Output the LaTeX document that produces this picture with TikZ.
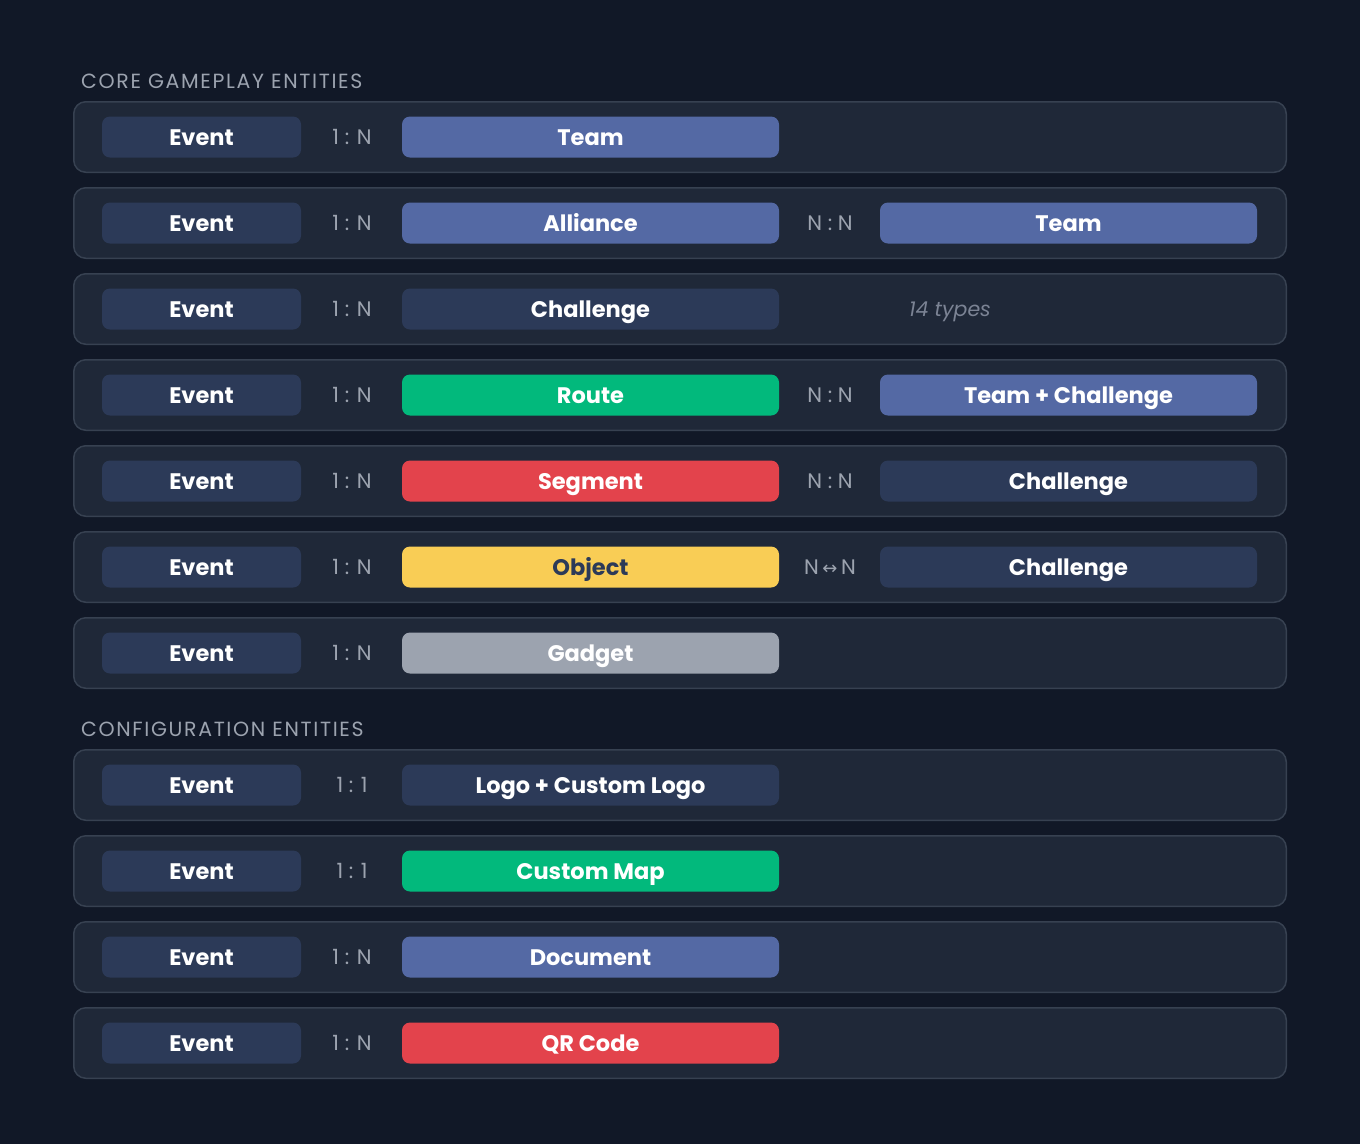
\documentclass[tikz,border=0pt]{standalone}
\usepackage{fontspec}
\setmainfont{Poppins}
\newfontfamily\arrowfont{DejaVu Sans}
\newfontfamily\headfont[LetterSpace=8]{Poppins}

\definecolor{pagebg}{HTML}{111827}
\definecolor{rowbg}{HTML}{1F2838}
\definecolor{rowline}{HTML}{374151}
\definecolor{slate}{HTML}{2C3A58}
\definecolor{azure}{HTML}{5469A4}
\definecolor{mint}{HTML}{02B97C}
\definecolor{coral}{HTML}{E3434C}
\definecolor{amber}{HTML}{F9CD55}
\definecolor{ash}{HTML}{9CA3AF}
\definecolor{cardgray}{HTML}{9CA3AF}
\definecolor{muted}{HTML}{7B8394}

\begin{document}
\begin{tikzpicture}[x=1pt, y=-1pt,
    row/.style={draw=rowline, line width=1.5pt, fill=rowbg, rounded corners=12pt,
        minimum width=1212.5pt, minimum height=70.5pt, inner sep=0pt},
    ent/.style={rounded corners=8pt, minimum height=41pt, inner sep=0pt, text=white,
        text height=16.5pt, text depth=0pt, font=\fontsize{22.5}{26}\selectfont\bfseries},
    src/.style={ent, fill=slate, minimum width=199pt},
    tgt/.style={ent, minimum width=377pt},
    card/.style={text=cardgray, text height=15pt, text depth=0pt, inner sep=0pt,
        font=\fontsize{21}{24}\selectfont},
    head/.style={anchor=base west, inner sep=0pt, text=cardgray,
        font=\headfont\fontsize{20.5}{24}\selectfont}]
        \useasboundingbox[fill=pagebg] (0,0) rectangle (1360,1144);

        % core gameplay
        \node[head] (hcore) at (81,88) {CORE GAMEPLAY ENTITIES};

        \node[row] (p1) at (680,137) {};
        \node[src] (e1) at (201.5,137) {Event};
        \node[card] (c1) at (352,137) {1 : N};
        \node[tgt, fill=azure] (m1) at (590.5,137) {Team};

        \node[row] (p2) at (680,223) {};
        \node[src] (e2) at (201.5,223) {Event};
        \node[card] (c2) at (352,223) {1 : N};
        \node[tgt, fill=azure] (m2) at (590.5,223) {Alliance};
        \node[card] (d2) at (830,223) {N : N};
        \node[tgt, fill=azure] (r2) at (1068.5,223) {Team};

        \node[row] (p3) at (680,309) {};
        \node[src] (e3) at (201.5,309) {Event};
        \node[card] (c3) at (352,309) {1 : N};
        \node[tgt, fill=slate] (m3) at (590.5,309) {Challenge};
        \node[card, text=muted, font=\fontsize{20.5}{24}\selectfont\itshape] (n3) at (950,309) {14 types};

        \node[row] (p4) at (680,395) {};
        \node[src] (e4) at (201.5,395) {Event};
        \node[card] (c4) at (352,395) {1 : N};
        \node[tgt, fill=mint] (m4) at (590.5,395) {Route};
        \node[card] (d4) at (830,395) {N : N};
        \node[tgt, fill=azure] (r4) at (1068.5,395) {Team + Challenge};

        \node[row] (p5) at (680,481) {};
        \node[src] (e5) at (201.5,481) {Event};
        \node[card] (c5) at (352,481) {1 : N};
        \node[tgt, fill=coral] (m5) at (590.5,481) {Segment};
        \node[card] (d5) at (830,481) {N : N};
        \node[tgt, fill=slate] (r5) at (1068.5,481) {Challenge};

        \node[row] (p6) at (680,567) {};
        \node[src] (e6) at (201.5,567) {Event};
        \node[card] (c6) at (352,567) {1 : N};
        \node[tgt, fill=amber, text=slate] (m6) at (590.5,567) {Object};
        \node[card] (d6) at (830,567) {N\,{\arrowfont\fontsize{18}{20}\selectfont ↔}\,N};
        \node[tgt, fill=slate] (r6) at (1068.5,567) {Challenge};

        \node[row] (p7) at (680,653) {};
        \node[src] (e7) at (201.5,653) {Event};
        \node[card] (c7) at (352,653) {1 : N};
        \node[tgt, fill=ash] (m7) at (590.5,653) {Gadget};

        % configuration
        \node[head] (hconf) at (81,736) {CONFIGURATION ENTITIES};

        \node[row] (p8) at (680,785) {};
        \node[src] (e8) at (201.5,785) {Event};
        \node[card] (c8) at (352,785) {1 : 1};
        \node[tgt, fill=slate] (m8) at (590.5,785) {Logo + Custom Logo};

        \node[row] (p9) at (680,871) {};
        \node[src] (e9) at (201.5,871) {Event};
        \node[card] (c9) at (352,871) {1 : 1};
        \node[tgt, fill=mint] (m9) at (590.5,871) {Custom Map};

        \node[row] (p10) at (680,957) {};
        \node[src] (e10) at (201.5,957) {Event};
        \node[card] (c10) at (352,957) {1 : N};
        \node[tgt, fill=azure] (m10) at (590.5,957) {Document};

        \node[row] (p11) at (680,1043) {};
        \node[src] (e11) at (201.5,1043) {Event};
        \node[card] (c11) at (352,1043) {1 : N};
        \node[tgt, fill=coral] (m11) at (590.5,1043) {QR Code};
\end{tikzpicture}
\end{document}
